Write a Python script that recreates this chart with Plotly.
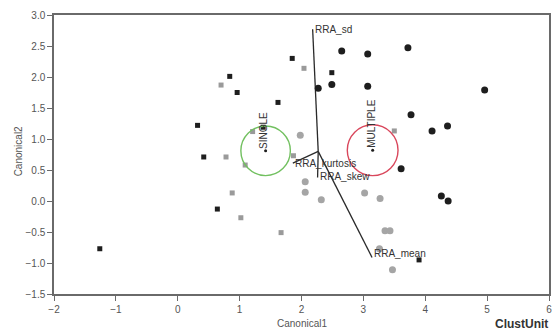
import plotly.graph_objects as go

# Canonical scores, grouped by marker style
black_sq_x = [-1.26, 0.64, 0.32, 0.42, 1.85, 0.84, 0.96, 1.62, 2.49, 1.38, 3.90]
black_sq_y = [-0.77, -0.13, 1.22, 0.71, 2.30, 2.01, 1.75, 1.59, 2.07, 1.19, -0.95]

grey_sq_x = [2.04, 0.70, 0.78, 0.88, 1.02, 1.67, 1.09, 1.21, 1.87, 3.50]
grey_sq_y = [2.14, 1.87, 0.71, 0.13, -0.27, -0.51, 0.58, 1.12, 0.73, 1.13]

black_ci_x = [2.65, 3.07, 2.49, 2.27, 3.07, 3.72, 4.96, 3.77, 4.11, 4.36, 3.61, 4.26, 4.37]
black_ci_y = [2.42, 2.37, 1.88, 1.82, 1.85, 2.47, 1.79, 1.39, 1.13, 1.21, 0.52, 0.08, 0.00]

grey_ci_x = [1.98, 2.06, 2.06, 2.32, 3.02, 3.27, 3.35, 3.43, 3.26, 3.47]
grey_ci_y = [1.06, 0.31, 0.14, 0.02, 0.13, 0.04, -0.48, -0.48, -0.77, -1.11]

# Group centroids and their confidence circles
groups = ["SINGLE", "MULTIPLE"]
centroid_x = [1.42, 3.15]
centroid_y = [0.81, 0.82]
circle_r = [0.40, 0.41]
circle_colors = ["#72c060", "#d9475c"]

# Biplot rays
ray_origin = (2.27, 0.80)
ray_names = ["RRA_sd", "RRA_mean", "RRA_kurtosis", "RRA_skew"]
ray_x = [2.18, 3.14, 1.86, 2.26]
ray_y = [2.77, -0.91, 0.61, 0.38]
ray_label_shift = [0, 4, 0, 1]

FONT = "Liberation Sans, Arial, sans-serif"

fig = go.Figure()

for nx, ny in zip(ray_x, ray_y):
    fig.add_trace(go.Scatter(x=[ray_origin[0], nx], y=[ray_origin[1], ny], mode="lines",
                             line=dict(color="#2a2a2a", width=1.3), hoverinfo="skip",
                             showlegend=False))

fig.add_trace(go.Scatter(x=grey_sq_x, y=grey_sq_y, mode="markers",
                         marker=dict(symbol="square", size=5, color="#9a9a9a"),
                         showlegend=False))
fig.add_trace(go.Scatter(x=grey_ci_x, y=grey_ci_y, mode="markers",
                         marker=dict(symbol="circle", size=7, color="#a5a5a5"),
                         showlegend=False))
fig.add_trace(go.Scatter(x=black_sq_x, y=black_sq_y, mode="markers",
                         marker=dict(symbol="square", size=5, color="#1e1e1e"),
                         showlegend=False))
fig.add_trace(go.Scatter(x=black_ci_x, y=black_ci_y, mode="markers",
                         marker=dict(symbol="circle", size=7, color="#1e1e1e"),
                         showlegend=False))
fig.add_trace(go.Scatter(x=centroid_x, y=centroid_y, mode="markers",
                         marker=dict(symbol="circle", size=3, color="#1e1e1e"),
                         showlegend=False))

for cx, cy, r, col in zip(centroid_x, centroid_y, circle_r, circle_colors):
    fig.add_shape(type="circle", xref="x", yref="y",
                  x0=cx - r, x1=cx + r, y0=cy - r, y1=cy + r,
                  line=dict(color=col, width=1.4))

annotations = []
for name, cx, cy in zip(groups, centroid_x, centroid_y):
    annotations.append(dict(x=cx, y=cy, xref="x", yref="y", text=name, textangle=-90,
                            showarrow=False, xanchor="center", yanchor="bottom",
                            xshift=-2, font=dict(family=FONT, size=10, color="#333333")))
for name, nx, ny, sh in zip(ray_names, ray_x, ray_y, ray_label_shift):
    annotations.append(dict(x=nx, y=ny, xref="x", yref="y", text=name, showarrow=False,
                            xanchor="left", yanchor="middle", yshift=sh,
                            font=dict(family=FONT, size=10, color="#333333")))

annotations += [
    dict(x=0.5, y=-0.106, xref="paper", yref="paper", text="Canonical1", showarrow=False,
         xanchor="center", yanchor="middle", font=dict(family=FONT, size=10, color="#555555")),
    dict(x=-0.072, y=0.5125, xref="paper", yref="paper", text="Canonical2", showarrow=False,
         textangle=-90, xanchor="center", yanchor="middle",
         font=dict(family=FONT, size=10, color="#555555")),
    dict(x=1.002, y=-0.106, xref="paper", yref="paper", text="<b>ClustUnit</b>", showarrow=False,
         xanchor="right", yanchor="middle", font=dict(family=FONT, size=12, color="#333333")),
]

axis_common = dict(showgrid=False, zeroline=False, showline=True, linecolor="#6a6a6a",
                   linewidth=1.5, mirror=True, ticks="outside", ticklen=5, tickwidth=1.2,
                   tickcolor="#6a6a6a", tickfont=dict(family=FONT, size=10, color="#555555"))

fig.update_layout(
    width=559, height=331,
    margin=dict(l=54, r=7, t=15, b=37),
    paper_bgcolor="white", plot_bgcolor="white",
    xaxis=dict(range=[-2, 6], dtick=1, **axis_common),
    yaxis=dict(range=[-1.5, 3.0], dtick=0.5, tickformat=".1f", **axis_common),
    annotations=annotations,
)

fig.write_html("out.html")
